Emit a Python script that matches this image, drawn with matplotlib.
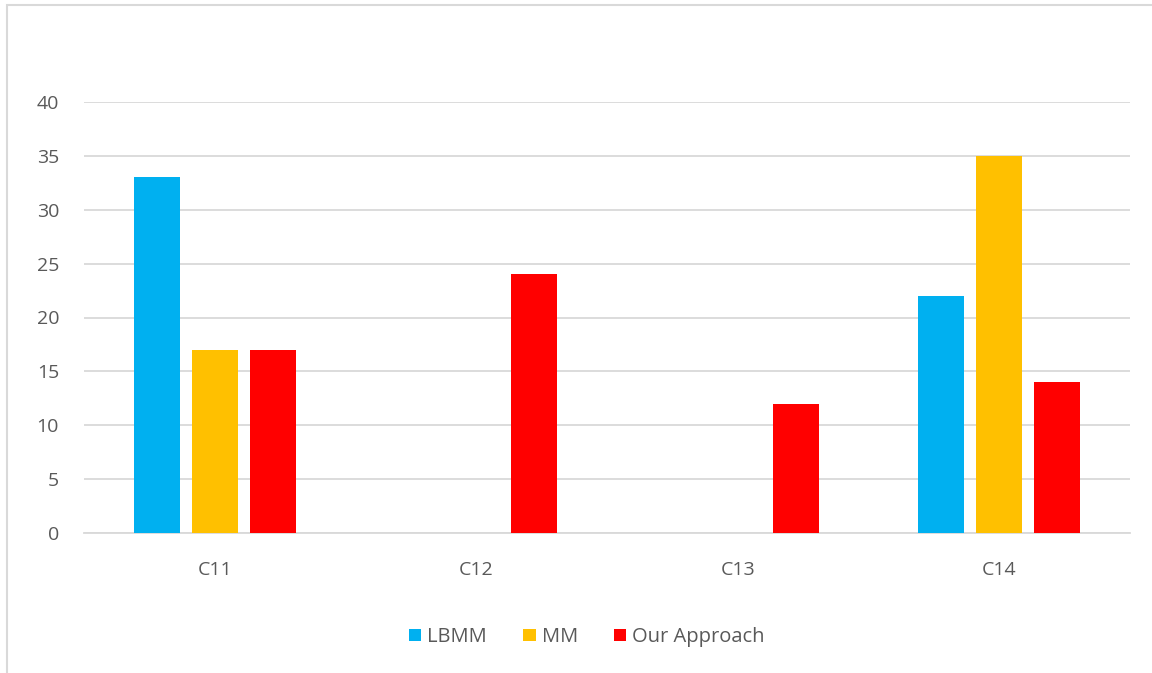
import matplotlib
matplotlib.use("Agg")
import matplotlib.pyplot as plt
import numpy as np
from matplotlib.patches import Rectangle

categories = ["C11", "C12", "C13", "C14"]
lbmm = [33, 0, 0, 22]
mm = [17, 0, 0, 35]
ours = [17, 24, 12, 14]
series_names = ["LBMM", "MM", "Our Approach"]
colors = ["#00b0f0", "#ffc000", "#ff0000"]
y_ticks = [0, 5, 10, 15, 20, 25, 30, 35, 40]

plt.rcParams["font.family"] = ["Open Sans", "DejaVu Sans"]
text_color = "#595959"
grid_color = "#d9d9d9"

fig = plt.figure(figsize=(11.52, 6.73), dpi=100)
ax = fig.add_axes([84 / 1152, 1 - 533 / 673, (1130 - 84) / 1152, (533 - 102) / 673])

x = np.arange(len(categories))
width = 0.176
step = 0.222
for i, (vals, name, col) in enumerate(zip([lbmm, mm, ours], series_names, colors)):
    ax.bar(x + (i - 1) * step, vals, width, color=col, label=name, zorder=3)

ax.set_xlim(-0.5, len(categories) - 0.5)
ax.set_ylim(0, 40)
ax.set_yticks(y_ticks)
ax.set_xticks(x)
ax.set_xticklabels(categories)
ax.tick_params(length=0, labelsize=14, labelcolor=text_color)
ax.tick_params(axis="x", pad=20)
ax.tick_params(axis="y", pad=18)
ax.yaxis.grid(True, color=grid_color, linewidth=1.3, zorder=0)
for side in ["top", "right", "left"]:
    ax.spines[side].set_visible(False)
ax.spines["bottom"].set_color(grid_color)
ax.spines["bottom"].set_linewidth(1.3)

fig.legend(loc="center", bbox_to_anchor=(587 / 1152, 1 - 637 / 673), ncol=3,
           frameon=False, fontsize=14.5, labelcolor=text_color,
           handlelength=0.6, handleheight=0.6, handletextpad=0.3, columnspacing=1.8)

# chart area border (cropped on the right and bottom)
fig.patches.append(Rectangle((7 / 1152, -0.1), 1.2, 1 - 5 / 673 + 0.1,
                             transform=fig.transFigure, fill=False,
                             edgecolor=grid_color, linewidth=1.5))

fig.savefig("out.png", dpi=100)
